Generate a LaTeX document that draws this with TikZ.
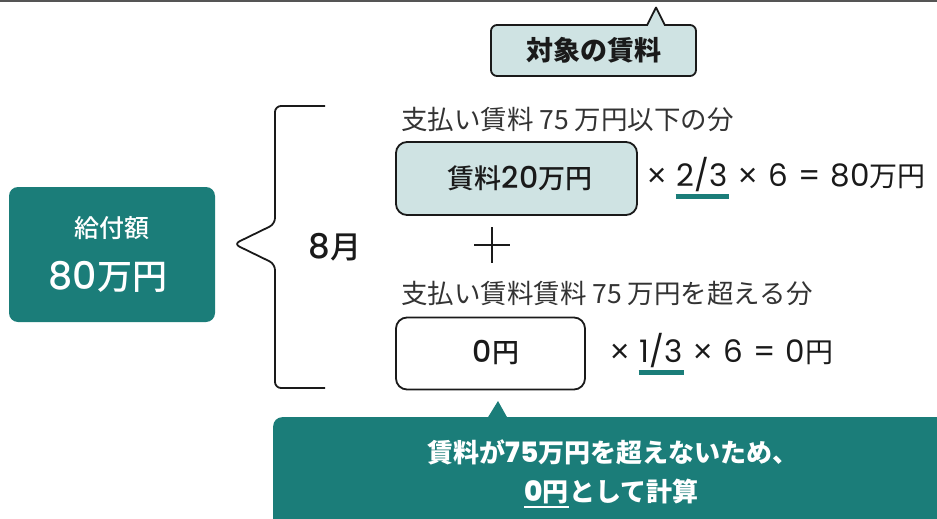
\documentclass[tikz,border=0pt]{standalone}
\usepackage{fontspec}
\setmainfont{Noto Sans CJK JP}
\newfontfamily\jpmed{Noto Sans CJK JP Medium}
\newfontfamily\pop{Poppins}
\newfontfamily\popm{Poppins Medium}
\newfontfamily\lib{Liberation Sans}
\definecolor{tealc}{HTML}{1B7D79}
\definecolor{lightc}{HTML}{CFE3E3}
\definecolor{inkc}{HTML}{1A1A1A}
\definecolor{greyc}{HTML}{333333}
\definecolor{rulec}{HTML}{555555}
\newcommand\fsz[1]{\fontsize{#1}{#1}\selectfont}
\newcommand\tms{{\lib\fsz{33}×}}
\begin{document}
\begin{tikzpicture}[x=1pt,y=-1pt,
  boxline/.style={draw=inkc, line width=1.8pt},
  lightbox/.style={boxline, fill=lightc, rounded corners=11pt},
  whitebox/.style={boxline, fill=white, rounded corners=11pt},
  tealbox/.style={fill=tealc, rounded corners=9pt, inner sep=0pt},
  plain/.style={inner sep=0pt, text=inkc},
  wtext/.style={inner sep=0pt, text=white},
  uline/.style={draw=tealc, line width=5pt},
  frm/.style={plain, font=\pop\fsz{31}},
]
\useasboundingbox (0,0) rectangle (937,519);
\clip (0,0) rectangle (937,519);
% top rule
\draw[rulec, line width=2pt] (0,1) -- (937,1);

% top callout
\node[lightbox, rounded corners=6pt, minimum width=205pt, minimum height=51pt,
      font=\fsz{27}\bfseries, text=inkc] (target) at (593.5,50.5) {対象の賃料};
\fill[lightc] (647.8,27) -- (647.8,25) -- (656,9) -- (664.2,25) -- (664.2,27) -- cycle;
\draw[inkc, line width=1.8pt, line join=round] (647,25.4) -- (656,7.5) -- (665,25.4);

% left teal box
\node[tealbox, minimum width=206pt, minimum height=135pt] (total) at (112,254.5) {};
\node[wtext, font=\jpmed\fsz{25}] (totallbl) at (112,228) {給付額};
\node[wtext] (totalval) at (108,277) {{\popm\fsz{38}80}{\jpmed\fsz{35}万円}};

% brace
\draw[inkc, line width=1.8pt, rounded corners=6pt]
  (325,106) -- (275,106) -- (275,224) -- (234,244) -- (275,264) -- (275,388) -- (325,388);
\node[plain] (month) at (335,247) {{\popm\fsz{34}8}{\jpmed\fsz{31}月}};

% first part
\node[plain, anchor=west, text=greyc, font=\fsz{26.5}] (part1) at (401,119) {支払い賃料 75 万円以下の分};
\node[lightbox, minimum width=241pt, minimum height=73pt] (rent1) at (516.5,178.5) {};
\node[plain, font=\jpmed\fsz{27}] (rent1txt) at (520,178) {賃料{\popm\fsz{30}20}万円};
\node[frm, anchor=west] (m1a) at (647,177) {\tms};
\node[frm, anchor=base west] (m1b) at ([xshift=10pt]m1a.base east) {2/3};
\node[frm, anchor=base west] (m1c) at ([xshift=10pt]m1b.base east) {\tms\hspace{11pt}6\hspace{10pt}=\hspace{10pt}80{\rmfamily\fsz{28}万円}};
\draw[uline] ([yshift=-10pt,xshift=-1pt]m1b.base west) -- ([yshift=-10pt,xshift=1pt]m1b.base east);

% plus
\draw[inkc, line width=2.6pt] (474,245) -- (510,245) (492,227) -- (492,263);

% second part
\node[plain, anchor=west, text=greyc, font=\fsz{26.5}] (part2) at (401,293) {支払い賃料賃料 75 万円を超える分};
\node[whitebox, minimum width=189pt, minimum height=72pt] (rent2) at (490.5,353.5) {};
\node[plain, font=\jpmed\fsz{27}] (rent2txt) at (496,353) {{\popm\fsz{30}0}円};
\node[frm, anchor=west] (m2a) at (610,353) {\tms};
\node[frm, anchor=base west] (m2b) at ([xshift=10pt]m2a.base east) {1/3};
\node[frm, anchor=base west] (m2c) at ([xshift=10pt]m2b.base east) {\tms\hspace{11pt}6\hspace{10pt}=\hspace{10pt}0{\rmfamily\fsz{28}円}};
\draw[uline] ([yshift=-10pt,xshift=-1pt]m2b.base west) -- ([yshift=-10pt,xshift=1pt]m2b.base east);

% bottom teal callout
\node[tealbox, anchor=north west, minimum width=690pt, minimum height=140pt] (note) at (273,417) {};
\fill[tealc] (487.5,418) -- (498,401) -- (507.5,418) -- cycle;
\node[wtext, font=\bfseries\fsz{26}] (note1) at (613,452) {賃料が{\popm\fsz{28}75}万円を超えないため、};
\node[wtext, font=\bfseries\fsz{26}, anchor=west] (note2a) at (524,492) {{\popm\fsz{28}0}円};
\node[wtext, font=\bfseries\fsz{26}, anchor=base west] (note2b) at (note2a.base east) {として計算};
\draw[white, line width=2.5pt] ([yshift=-6pt]note2a.base west) -- ([yshift=-6pt]note2a.base east);
\end{tikzpicture}
\end{document}
